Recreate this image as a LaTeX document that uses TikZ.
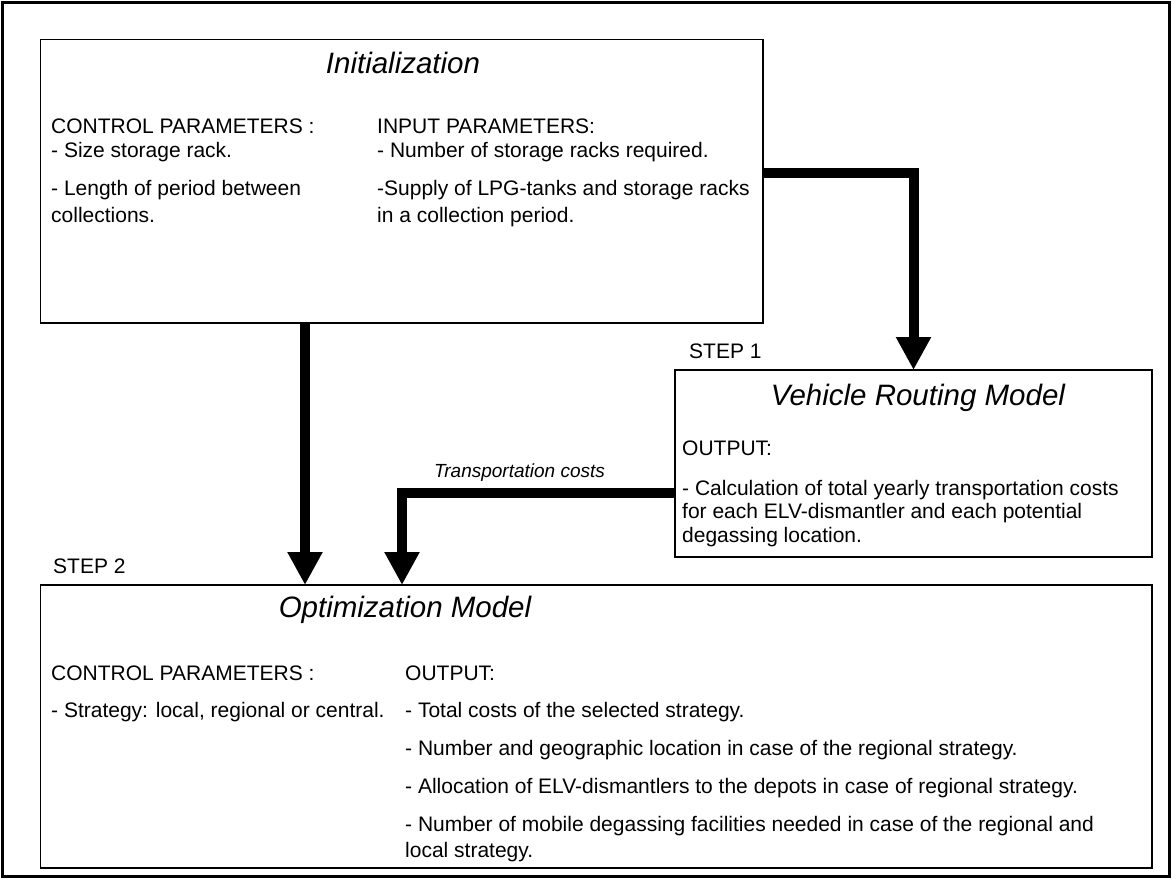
\documentclass[tikz,border=0pt]{standalone}
\usepackage{fontspec}
\setmainfont{Liberation Sans}
\usetikzlibrary{arrows.meta}
\begin{document}
\begin{tikzpicture}[x=1pt,y=-1pt,
  box/.style={draw, line width=1.4pt, inner sep=0pt, outer sep=0pt},
  txt/.style={anchor=base west, inner sep=0pt, font=\fontsize{21}{25}\selectfont},
  ttl/.style={anchor=base, inner sep=0pt, font=\fontsize{29.5}{34}\selectfont\itshape},
  lbl/.style={anchor=base west, inner sep=0pt, font=\fontsize{19}{22}\selectfont\itshape},
  arr/.style={line width=10pt, line join=miter, -{Triangle[length=33pt,width=33pt]}}]
\useasboundingbox (0,0) rectangle (1172,879);
\draw[line width=3pt] (2,2) rectangle (1169.5,876.5);
% boxes
\node[box, minimum width=722.5pt, minimum height=283.5pt] (init) at (401.75,181.25) {};
\node[box, minimum width=477pt, minimum height=187pt] (vrm) at (913.5,463.5) {};
\node[box, minimum width=1111.5pt, minimum height=283pt] (opt) at (596.25,726.5) {};
% Initialization
\node[ttl] (initT) at (403,73) {Initialization};
\node[txt] (i1) at (51,133) {CONTROL PARAMETERS :};
\node[txt] (i2) at (51,157) {- Size storage rack.};
\node[txt] (i3) at (51,195) {- Length of period between};
\node[txt] (i4) at (51,222) {collections.};
\node[txt] (i5) at (377,133) {INPUT PARAMETERS:};
\node[txt] (i6) at (377,157) {- Number of storage racks required.};
\node[txt] (i7) at (377,195) {-Supply of LPG-tanks and storage racks};
\node[txt] (i8) at (377,222) {in a collection period.};
% Vehicle routing
\node[txt] (s1) at (689,358) {STEP 1};
\node[ttl] (vrmT) at (918,405) {Vehicle Routing Model};
\node[txt] (v1) at (682,455) {OUTPUT:};
\node[txt] (v2) at (682,495) {- Calculation of total yearly transportation costs};
\node[txt] (v3) at (682,518) {for each ELV-dismantler and each potential};
\node[txt] (v4) at (682,542) {degassing location.};
% Optimization
\node[txt] (s2) at (53,573) {STEP 2};
\node[ttl] (optT) at (405,617) {Optimization Model};
\node[txt] (o1) at (51,680) {CONTROL PARAMETERS :};
\node[txt] (o2) at (51,717) {- Strategy: local, regional or central.};
\node[txt] (o3) at (405,680) {OUTPUT:};
\node[txt] (o4) at (405,717) {- Total costs of the selected strategy.};
\node[txt] (o5) at (405,755) {- Number and geographic location in case of the regional strategy.};
\node[txt] (o6) at (405,793) {- Allocation of ELV-dismantlers to the depots in case of regional strategy.};
\node[txt] (o7) at (405,831) {- Number of mobile degassing facilities needed in case of the regional and};
\node[txt] (o8) at (405,857) {local strategy.};
% arrows
\coordinate (k1) at (305,0);
\coordinate (k2) at (913.5,172.5);
\coordinate (k3) at (402,493);
\draw[arr] (init.south -| k1) -- (opt.north -| k1);
\draw[arr] (init.east |- k2) -- (k2) -- (vrm.north);
\draw[arr] (vrm.west |- k3) -- (k3) -- (opt.north -| k3);
\node[lbl] (tc) at (434,477) {Transportation costs};
\end{tikzpicture}
\end{document}
